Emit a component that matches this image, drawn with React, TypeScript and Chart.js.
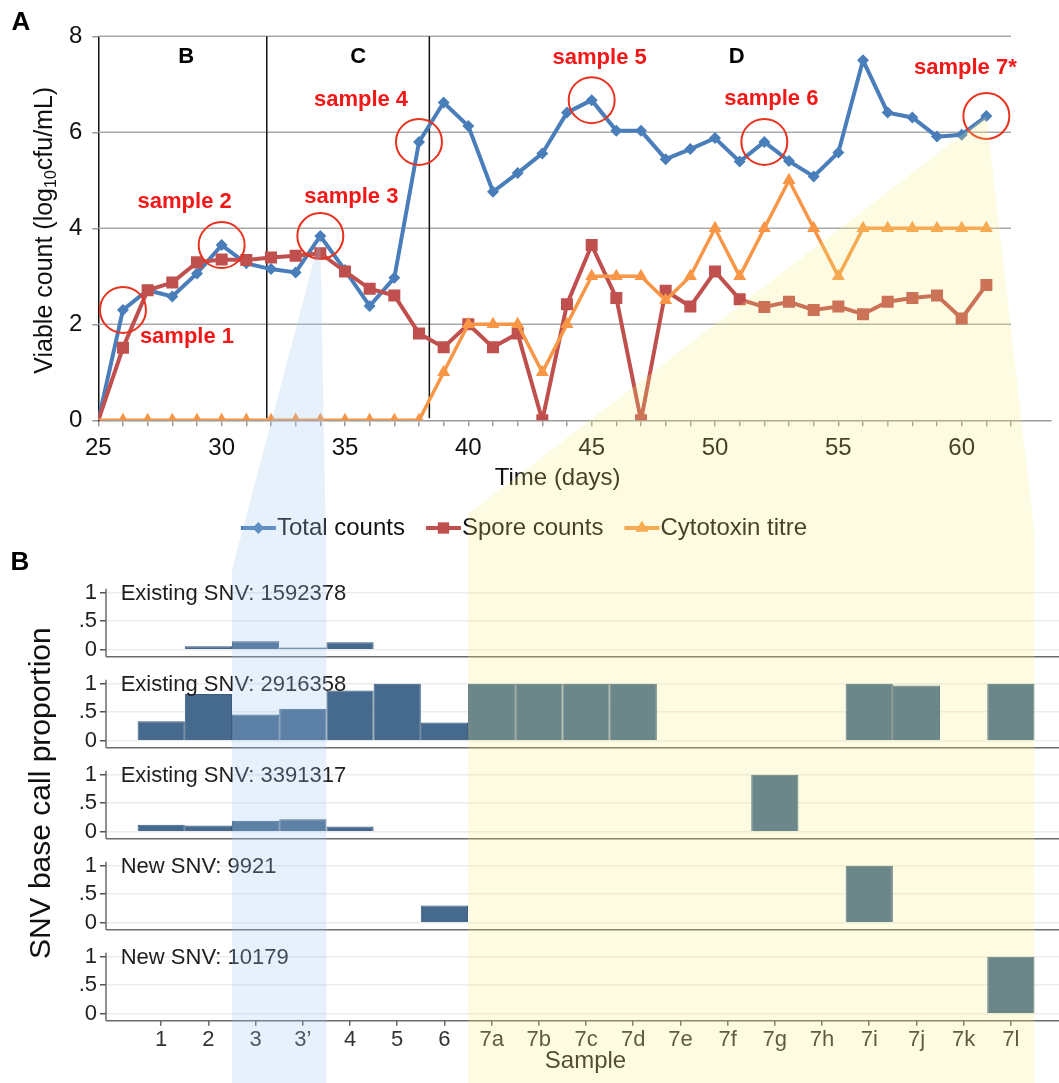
import React, { useEffect, useRef } from 'react';
import { Chart, registerables } from 'chart.js';

Chart.register(...registerables);

const FONT = "'Liberation Sans', Arial, Helvetica, sans-serif";

// ---------------- Panel A data ----------------
const days = [25, 26, 27, 28, 29, 30, 31, 32, 33, 34, 35, 36, 37, 38, 39, 40, 41, 42, 43, 44, 45, 46, 47, 48, 49, 50, 51, 52, 53, 54, 55, 56, 57, 58, 59, 60, 61];
const totalCounts = [0, 2.30, 2.71, 2.58, 3.06, 3.65, 3.27, 3.15, 3.08, 3.84, 3.13, 2.38, 2.97, 5.80, 6.62, 6.13, 4.76, 5.15, 5.56, 6.41, 6.67, 6.03, 6.03, 5.44, 5.65, 5.88, 5.39, 5.80, 5.40, 5.08, 5.58, 7.50, 6.41, 6.31, 5.91, 5.95, 6.34];
const sporeCounts = [0, 1.51, 2.71, 2.87, 3.29, 3.35, 3.34, 3.39, 3.43, 3.48, 3.10, 2.74, 2.60, 1.81, 1.52, 2.00, 1.52, 1.81, 0, 2.42, 3.65, 2.55, 0, 2.70, 2.37, 3.10, 2.52, 2.36, 2.47, 2.30, 2.37, 2.21, 2.47, 2.55, 2.60, 2.12, 2.82];
const cytotoxinTitre = [0, 0, 0, 0, 0, 0, 0, 0, 0, 0, 0, 0, 0, 0, 1, 2, 2, 2, 1, 2, 3, 3, 3, 2.5, 3, 4, 3, 4, 5, 4, 3, 4, 4, 4, 4, 4, 4];
const seriesLabels = ['Total counts', 'Spore counts', 'Cytotoxin titre'];
const xTickLabelsA = [25, 30, 35, 40, 45, 50, 55, 60];
const yTicksA = [0, 2, 4, 6, 8];

// annotations (panel A)
const sampleDays = [26, 30, 34, 38, 45, 52, 61];
const sampleNames = ['sample 1', 'sample 2', 'sample 3', 'sample 4', 'sample 5', 'sample 6', 'sample 7*'];
const phaseBounds = [31.83, 38.42];
const phaseNames = ['B', 'C', 'D'];
const phaseLabelDays = [28.56, 35.54, 50.88];
const phaseLabelLevel = 7.57;

// ---------------- Panel B data ----------------
const samples = ['1', '2', '3', '3\u2019', '4', '5', '6', '7a', '7b', '7c', '7d', '7e', '7f', '7g', '7h', '7i', '7j', '7k', '7l'];
const snvTitles = ['Existing SNV: 1592378', 'Existing SNV: 2916358', 'Existing SNV: 3391317', 'New SNV: 9921', 'New SNV: 10179'];
const snv1592378 = [0, 0.06, 0.15, 0.04, 0.13, 0, 0, 0, 0, 0, 0, 0, 0, 0, 0, 0, 0, 0, 0];
const snv2916358 = [0.34, 0.82, 0.46, 0.56, 0.88, 1.0, 0.32, 1, 1, 1, 1, 0, 0, 0, 0, 1, 0.97, 0, 1];
const snv3391317 = [0.12, 0.11, 0.19, 0.22, 0.09, 0, 0, 0, 0, 0, 0, 0, 0, 1, 0, 0, 0, 0, 0];
const snv9921 = [0, 0, 0, 0, 0, 0, 0.3, 0, 0, 0, 0, 0, 0, 0, 0, 1, 0, 0, 0];
const snv10179 = [0, 0, 0, 0, 0, 0, 0, 0, 0, 0, 0, 0, 0, 0, 0, 0, 0, 0, 1];
const snvSeries = [snv1592378, snv2916358, snv3391317, snv9921, snv10179];
const yTicksB = [0, 0.5, 1];
const yTickLabelsB = ['0', '.5', '1'];

// ---------------- layout / style ----------------
const W = 1059;
const H = 1083;
const A_H = 560;
const B_TOP = 540;
const B_H = 543;
const BLUE = '#4a7ebb';
const RED = '#c0504d';
const ORANGE = '#f79646';
const BAR = '#46698e';
const sampleLabelOffsets = [[64, 27], [-37, -43], [31, -39], [-58, -42], [8, -42], [7, -43], [-21, -48]];

const links = [
  { day: 34, from: '3', to: '3\u2019', cornerL: 570, cornerR: 570, fill: 'rgba(160,200,238,0.25)' },
  { day: 61, from: '7a', to: '7l', cornerL: 514, cornerR: 533, fill: 'rgba(245,240,125,0.22)' },
];

function marker(ctx: CanvasRenderingContext2D, style: string, x: number, y: number, r: number, color: string) {
  ctx.fillStyle = color;
  ctx.beginPath();
  if (style === 'rectRot') {
    ctx.moveTo(x - r, y); ctx.lineTo(x, y - r); ctx.lineTo(x + r, y); ctx.lineTo(x, y + r);
  } else if (style === 'rect') {
    const s = r * Math.SQRT1_2;
    ctx.rect(x - s, y - s, 2 * s, 2 * s);
  } else {
    ctx.moveTo(x, y - r);
    ctx.lineTo(x + 0.866 * r, y + 0.5 * r);
    ctx.lineTo(x - 0.866 * r, y + 0.5 * r);
  }
  ctx.closePath();
  ctx.fill();
}

function line(ctx: CanvasRenderingContext2D, x1: number, y1: number, x2: number, y2: number) {
  ctx.beginPath(); ctx.moveTo(x1, y1); ctx.lineTo(x2, y2); ctx.stroke();
}

const panelAPlugin = {
  id: 'panelA',
  beforeDatasetsDraw(chart: any) {
    const { ctx } = chart;
    const x = chart.scales.x, y = chart.scales.y;
    ctx.save();
    ctx.strokeStyle = '#a9a9a9';
    ctx.lineWidth = 1.5;
    for (const v of yTicksA) {
      if (v === 0) continue;
      const py = y.getPixelForValue(v);
      line(ctx, x.getPixelForValue(25), py, x.getPixelForValue(62), py);
    }
    ctx.strokeStyle = '#111';
    ctx.lineWidth = 1.5;
    for (const d of phaseBounds) {
      const px = x.getPixelForValue(d);
      line(ctx, px, y.getPixelForValue(8), px, y.getPixelForValue(0) - 2);
    }
    ctx.restore();
  },
  afterDatasetsDraw(chart: any) {
    const { ctx } = chart;
    const x = chart.scales.x, y = chart.scales.y;
    ctx.save();
    ctx.textAlign = 'center';
    ctx.textBaseline = 'middle';
    sampleDays.forEach((d, i) => {
      const idx = days.indexOf(d);
      const px = x.getPixelForValue(d);
      const py = y.getPixelForValue(totalCounts[idx]);
      ctx.strokeStyle = '#e8321e';
      ctx.lineWidth = 2;
      ctx.beginPath();
      ctx.arc(px, py, 23, 0, Math.PI * 2);
      ctx.stroke();
      ctx.fillStyle = '#f21818';
      ctx.font = `bold 22px ${FONT}`;
      ctx.fillText(sampleNames[i], px + sampleLabelOffsets[i][0], py + sampleLabelOffsets[i][1]);
    });
    ctx.fillStyle = '#000';
    ctx.font = `bold 22px ${FONT}`;
    phaseNames.forEach((n, i) => {
      ctx.fillText(n, x.getPixelForValue(phaseLabelDays[i]), y.getPixelForValue(phaseLabelLevel));
    });
    ctx.font = `bold 26px ${FONT}`;
    ctx.fillText('A', 21, 23);
    ctx.font = `24px ${FONT}`;
    ctx.fillStyle = '#111';
    ctx.fillText('Time (days)', (x.getPixelForValue(25) + x.getPixelForValue(62)) / 2 + 3, 478);
    // y title with subscript
    ctx.save();
    ctx.translate(45, (y.top + y.bottom) / 2 + 2);
    ctx.rotate(-Math.PI / 2);
    const parts = [
      { t: 'Viable count (log', f: `25px ${FONT}`, dy: 0 },
      { t: '10', f: `16px ${FONT}`, dy: 7 },
      { t: 'cfu/mL)', f: `25px ${FONT}`, dy: 0 },
    ];
    let tot = 0;
    const ws = parts.map(p => { ctx.font = p.f; const w = ctx.measureText(p.t).width; tot += w; return w; });
    let cx = -tot / 2;
    ctx.textAlign = 'left';
    parts.forEach((p, i) => { ctx.font = p.f; ctx.fillText(p.t, cx, p.dy); cx += ws[i]; });
    ctx.restore();
    // legend
    ctx.font = `24px ${FONT}`;
    ctx.textAlign = 'left';
    ctx.textBaseline = 'middle';
    const ds = chart.data.datasets;
    const symW = 35, gapT = 1, gapI = 21;
    const widths = ds.map((d: any) => symW + gapT + ctx.measureText(d.label).width);
    const total = widths.reduce((a: number, b: number) => a + b, 0) + gapI * (ds.length - 1);
    let lx = 524 - total / 2;
    const ly = 528;
    ds.forEach((d: any, i: number) => {
      ctx.strokeStyle = d.borderColor;
      ctx.lineWidth = 4;
      line(ctx, lx, ly, lx + symW, ly);
      const r = d.pointStyle === 'rectRot' ? 6 : d.pointStyle === 'rect' ? 8 : 7.5;
      marker(ctx, d.pointStyle, lx + symW / 2, ly, r, d.borderColor);
      ctx.fillStyle = '#111';
      ctx.fillText(d.label, lx + symW + gapT, ly);
      lx += widths[i] + gapI;
    });
    ctx.restore();
  },
};

const panelBPlugin = {
  id: 'panelB',
  afterDatasetsDraw(chart: any) {
    const { ctx, chartArea } = chart;
    ctx.save();
    snvTitles.forEach((title, k) => {
      const s = chart.scales['y' + k];
      const bottom = s.bottom;
      ctx.strokeStyle = '#6b6b6b';
      ctx.lineWidth = 1.5;
      line(ctx, chartArea.left, bottom, chartArea.right, bottom);
      line(ctx, chartArea.left, s.getPixelForValue(1.07), chartArea.left, bottom);
      ctx.fillStyle = '#1e1e1e';
      ctx.font = `22px ${FONT}`;
      ctx.textAlign = 'left';
      ctx.textBaseline = 'alphabetic';
      ctx.fillText(title, chartArea.left + 14.7, s.getPixelForValue(1) + 7.5);
    });
    ctx.textAlign = 'center';
    ctx.textBaseline = 'middle';
    ctx.fillStyle = '#000';
    ctx.font = `bold 26px ${FONT}`;
    ctx.fillText('B', 20, 23);
    ctx.fillStyle = '#222';
    ctx.font = `24px ${FONT}`;
    ctx.fillText('Sample', (chartArea.left + chartArea.right) / 2 + 3, 521.7);
    ctx.save();
    ctx.translate(42, (chartArea.top + chartArea.bottom) / 2);
    ctx.rotate(-Math.PI / 2);
    ctx.fillStyle = '#111';
    ctx.font = `30px ${FONT}`;
    ctx.fillText('SNV base call proportion', 0, 0);
    ctx.restore();
    ctx.restore();
  },
};

function lineDataset(label: string, values: number[], color: string, style: string, r: number, bw: number, order: number) {
  return {
    label,
    data: days.map((d, i) => ({ x: d, y: values[i] })),
    borderColor: color,
    backgroundColor: color,
    borderWidth: bw,
    pointStyle: style,
    pointRadius: days.map((_, i) => (i === 0 ? 0 : r)),
    pointBorderWidth: 0,
    pointBackgroundColor: color,
    tension: 0,
    order,
  };
}

function drawOverlay(canvas: HTMLCanvasElement, chartA: any, chartB: any) {
  const ctx = canvas.getContext('2d')!;
  ctx.clearRect(0, 0, W, H);
  const xa = chartA.scales.x, ya = chartA.scales.y, xb = chartB.scales.x;
  for (const ln of links) {
    const px = xa.getPixelForValue(ln.day);
    const py = ya.getPixelForValue(totalCounts[days.indexOf(ln.day)]);
    const l = xb.getPixelForValue(samples.indexOf(ln.from) + 0.5);
    const r = xb.getPixelForValue(samples.indexOf(ln.to) + 1.5);
    ctx.fillStyle = ln.fill;
    ctx.beginPath();
    ctx.moveTo(px, py);
    ctx.lineTo(r, ln.cornerR);
    ctx.lineTo(r, H);
    ctx.lineTo(l, H);
    ctx.lineTo(l, ln.cornerL);
    ctx.closePath();
    ctx.fill();
  }
}

export default function App() {
  const aRef = useRef<HTMLCanvasElement>(null);
  const bRef = useRef<HTMLCanvasElement>(null);
  const oRef = useRef<HTMLCanvasElement>(null);

  useEffect(() => {
    document.body.style.overflow = 'hidden';
    const tickMarksA: number[] = [];
    for (let d = 25; d <= 62; d++) tickMarksA.push(d);

    const chartA = new Chart(aRef.current!, {
      type: 'line',
      data: {
        datasets: [
          lineDataset(seriesLabels[0], totalCounts, BLUE, 'rectRot', 6, 4, 3),
          lineDataset(seriesLabels[1], sporeCounts, RED, 'rect', 8.5, 4, 2),
          lineDataset(seriesLabels[2], cytotoxinTitre, ORANGE, 'triangle', 7.5, 3.5, 1),
        ] as any,
      },
      options: {
        animation: false,
        responsive: false,
        devicePixelRatio: 1,
        layout: { padding: { left: 0, top: 36.3, right: 7.3, bottom: 0 } },
        plugins: { legend: { display: false }, tooltip: { enabled: false } },
        scales: {
          x: {
            type: 'linear',
            min: 25,
            max: 63.6,
            afterBuildTicks: (s: any) => { s.ticks = tickMarksA.map(v => ({ value: v })); },
            ticks: {
              autoSkip: false,
              maxRotation: 0,
              callback: (v: any) => (xTickLabelsA.includes(Number(v)) ? String(v) : ''),
              font: { family: FONT, size: 24 },
              color: '#111',
              padding: 8,
            },
            grid: { drawOnChartArea: false, drawTicks: true, tickLength: 6, tickColor: '#9a9a9a', lineWidth: 1.5 },
            border: { display: true, color: '#9a9a9a', width: 1.5 },
            afterFit: (s: any) => { s.height = A_H - 420.3; },
          },
          y: {
            type: 'linear',
            min: 0,
            max: 8,
            afterBuildTicks: (s: any) => { s.ticks = yTicksA.map(v => ({ value: v })); },
            ticks: { autoSkip: false, font: { family: FONT, size: 24 }, color: '#111', padding: 10 },
            grid: { drawOnChartArea: false, drawTicks: true, tickLength: 6, tickColor: '#9a9a9a', lineWidth: 1.5 },
            border: { display: true, color: '#111', width: 1.5 },
            afterFit: (s: any) => { s.width = 98.3; },
          },
        } as any,
      },
      plugins: [panelAPlugin],
    });

    const yAxis = () => ({
      type: 'linear',
      position: 'left',
      stack: 'snv',
      stackWeight: 1,
      min: -0.1228,
      max: 1.474,
      afterBuildTicks: (s: any) => { s.ticks = yTicksB.map(v => ({ value: v })); },
      ticks: {
        autoSkip: false,
        callback: (v: any) => yTickLabelsB[yTicksB.indexOf(Number(v))] ?? '',
        font: { family: FONT, size: 22 },
        color: '#222',
        padding: 3,
      },
      grid: { color: '#ececec', lineWidth: 1.5, drawTicks: true, tickLength: 6, tickColor: '#555' },
      border: { display: false },
      afterFit: (s: any) => { s.width = 106; },
    });

    const scalesB: any = {
      x: {
        type: 'linear',
        min: -0.17,
        max: 20.02,
        offset: false,
        afterBuildTicks: (s: any) => { s.ticks = samples.map((_, i) => ({ value: i + 1 })); },
        ticks: {
          autoSkip: false,
          maxRotation: 0,
          callback: (v: any) => samples[Math.round(Number(v)) - 1] ?? '',
          font: { family: FONT, size: 22 },
          color: '#333',
          padding: 1,
        },
        grid: { offset: false, drawOnChartArea: false, drawTicks: true, tickLength: 5, tickColor: '#666', lineWidth: 1.5 },
        border: { display: false },
        afterFit: (s: any) => { s.height = B_H - (1020.7 - B_TOP); },
      },
    };
    for (let k = snvSeries.length - 1; k >= 0; k--) scalesB['y' + k] = yAxis();

    const chartB = new Chart(bRef.current!, {
      type: 'bar',
      data: {
        datasets: snvSeries.map((vals, k) => ({
          label: snvTitles[k],
          data: vals.map((v, i) => ({ x: i + 1, y: v > 0 ? v : null })),
          yAxisID: 'y' + k,
          grouped: false,
          barPercentage: 1,
          categoryPercentage: 1,
          backgroundColor: BAR,
          borderColor: '#3a5a7c',
          borderWidth: 1,
          inflateAmount: 0,
          borderSkipped: 'start',
        })) as any,
      },
      options: {
        animation: false,
        responsive: false,
        devicePixelRatio: 1,
        layout: { padding: { left: 0, top: 565.7 - B_TOP, right: 0, bottom: 0 } },
        plugins: { legend: { display: false }, tooltip: { enabled: false } },
        scales: scalesB,
      },
      plugins: [panelBPlugin],
    });

    drawOverlay(oRef.current!, chartA, chartB);

    return () => {
      chartA.destroy();
      chartB.destroy();
    };
  }, []);

  return (
    <div style={{ position: 'absolute', left: 0, top: 0, width: W, height: H, background: '#fff', overflow: 'hidden' }}>
      <canvas ref={aRef} width={W} height={A_H} style={{ position: 'absolute', left: 0, top: 0, width: W, height: A_H }} />
      <canvas ref={bRef} width={W} height={B_H} style={{ position: 'absolute', left: 0, top: B_TOP, width: W, height: B_H }} />
      <canvas ref={oRef} width={W} height={H} style={{ position: 'absolute', left: 0, top: 0, width: W, height: H, pointerEvents: 'none' }} />
    </div>
  );
}
